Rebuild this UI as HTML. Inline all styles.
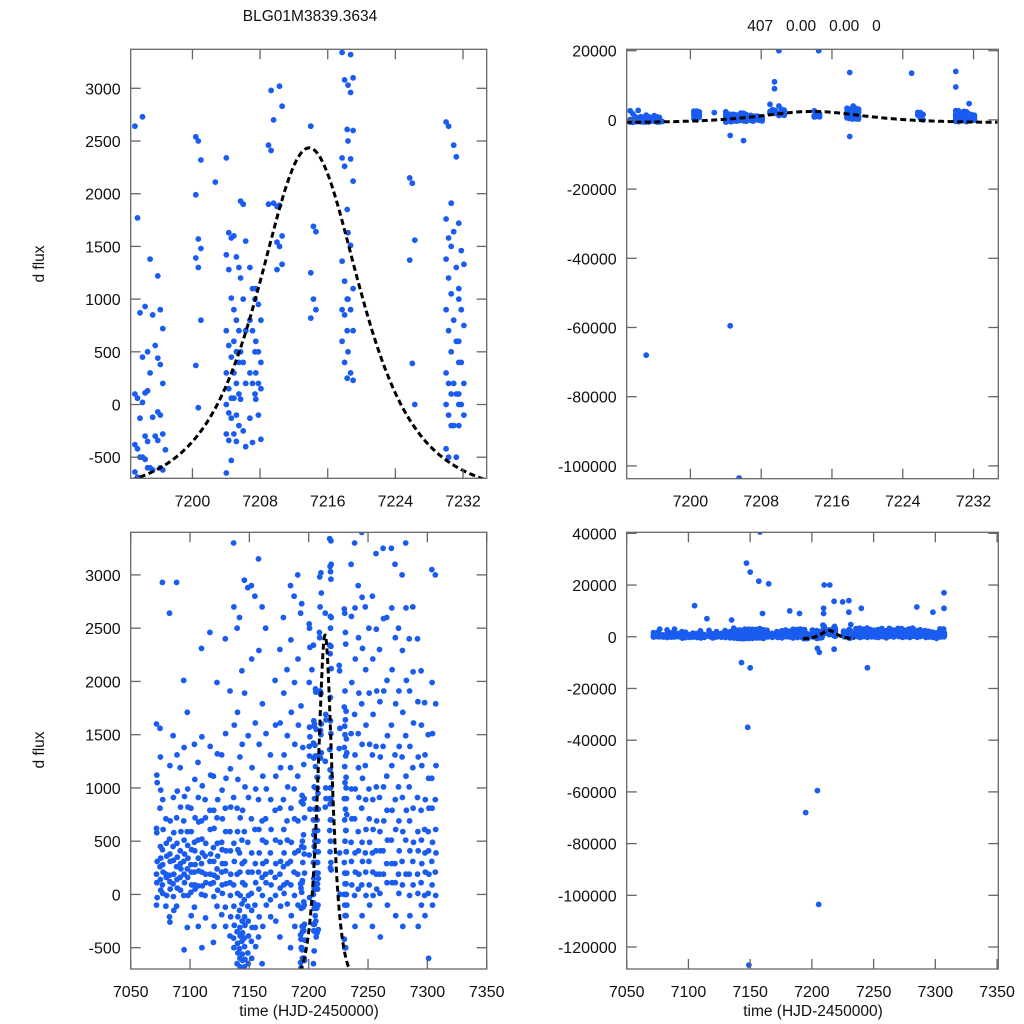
<!DOCTYPE html>
<html><head><meta charset="utf-8"><style>
html,body{margin:0;padding:0;background:#fff;width:1024px;height:1024px;overflow:hidden;}
svg{display:block;font-family:"Liberation Sans",sans-serif;}
</style></head><body>
<svg id="chart" width="1024" height="1024" viewBox="0 0 1024 1024" xmlns="http://www.w3.org/2000/svg">
<rect width="1024" height="1024" fill="#fff"/>
<text x="310" y="21" font-size="15.5" text-anchor="middle" fill="#111">BLG01M3839.3634</text>
<text x="814" y="31" font-size="15.5" text-anchor="middle" fill="#111" xml:space="preserve">407   0.00   0.00   0</text>
<text transform="translate(44,264) rotate(-90)" font-size="15.5" text-anchor="middle" fill="#111">d flux</text>
<text transform="translate(44,750) rotate(-90)" font-size="15.5" text-anchor="middle" fill="#111">d flux</text>
<text x="309" y="1016" font-size="15.5" text-anchor="middle" fill="#111">time (HJD-2450000)</text>
<text x="813" y="1016" font-size="15.5" text-anchor="middle" fill="#111">time (HJD-2450000)</text>
</svg>
<script>
// observation nights: time and measured flux values
const nightTimes = [7072,7075,7077,7080,7083,7086,7089,7092,7095,7098,7101,7104,7107,7110,7113,7117,7120,7123,7127,7130,7134,7137,7140,7142,7144,7146,7149,7152,7155,7158,7161,7164,7168,7172,7176,7179,7182,7185,7188,7191,
7193.5,7194.4,7195.3,7196.2,7197.1,7200.7,7203,7204.3,7205.2,7206,7207.1,7207.8,7209.3,7210.3,7214.3,7218,7218.7,7226,7230.3,7231.2,7231.8,
7236,7239,7242,7245,7248,7251,7254,7257,7260,7263,7266,7270,7273,7276,7279,7282,7285,7288,7292,7295,7298,7301,7304,7307];
const nightFlux = [
[1600,1120,1050,620,580,310,190,110,-30,-100],
[1560,1290,980,810,450,340,260,140,40],
[2930,890,610,420,280,210,90,10],
[710,480,360,190,160,-10,-110],
[2640,1210,690,520,380,310,180,120,50,-210,-260],
[1490,910,580,450,320,190,100,-20,-150],
[2930,1310,970,720,480,350,260,140,60,-110],
[1190,820,590,410,290,240,160,40],
[2010,1380,920,690,510,380,310,190,110,-10,-520],
[1710,990,820,590,460,340,240,160,-10,-310],
[810,590,420,280,210,90,20,-200],
[1410,1080,720,490,410,280,210,90,50,-120],
[1240,910,680,510,340,220,80,-300],
[2310,1480,1020,690,520,390,290,210,80,0,-500],
[890,720,480,360,190,110,-10,-220],
[2460,1390,1120,790,610,380,310,190,100],
[1110,790,620,440,310,180,110,-20,-300,-450],
[1990,1320,890,720,480,360,240,160,40,-110],
[1310,980,710,490,420,290,210,90,10,-190],
[2400,1510,1090,810,590,410,290,220,100,-120,-300],
[1910,1180,820,590,410,190,110,-10,-210,-390],
[3300,2700,1590,910,480,310,90,-110,-290,-410,-500],
[2500,1710,1080,810,590,420,190,10,-210,-350,-460,-550,-650],
[2600,1290,720,390,210,-10,-150,-310,-390,-510,-600,-680],
[2100,1410,790,510,290,110,-90,-250,-360,-440,-560,-620,-700],
[2950,1890,1010,590,310,90,-50,-210,-290,-410,-490,-610,-680],
[2880,1490,910,490,210,-10,-110,-250,-390,-550,-650],
[2900,2210,1190,710,390,210,10,-150,-310,-440,-600],
[2800,1610,990,610,290,110,-100,-310,-490],
[3150,2290,1410,890,610,390,210,50,-210,-400],
[2700,1790,1110,690,510,290,160,-10,-300,-650],
[2500,1510,990,710,490,310,190,110,-100],
[1310,890,610,390,210,90,-50,-210],
[2010,1590,1110,790,510,290,160,-10,-250],
[2300,1610,1190,810,490,310,190,60,-110,-400],
[2600,1890,1310,890,610,390,260,90,10],
[2110,1490,1010,690,510,290,110,-90],
[2900,2390,1710,1190,810,490,310,90,-200,-500],
[2800,1990,1410,990,710,390,210,-10,-300],
[3000,2210,1590,1110,690,410,190,-100],
[2640,1770,870,100,60,-130,-380,-420,-500,-640,-690],
[2730,930,500,450,110,130,20,-300,-350,-500,-520,-600],
[1380,850,560,300,-120,-300,-600,-620],
[1220,900,720,440,380,200,-70,-100,-280,-340,-600,-620],
[-430],
[2540,2500,2320,1990,1570,1480,1390,1300,800,370,-30],
[2110],
[2340,1630,1580,1420,1280,1010,700,560,450,300,150,60,0,-80,-130,-280,-340,-530,-650],
[1600,1400,1300,900,800,700,600,500,400,300,200,100,60,-100,-200,-280,-350],
[1930,1900,1550,1200,1000,700,500,400,200,50,-250,-400],
[1300,1100,1000,800,700,500,300,200,100,-130,-360],
[1100,950,800,600,500,400,300,200,150,50,-100,-330],
[4500,2980,2700,2460,2410,1910,1900],
[4000,3020,2830,1880,1890,1600,1540,1500,1330,1280],
[2640,1690,1640,1250,1000,900,820],
[3340,3080,2610,2340,2260,1850,1360,1170,1000,900,850,700,600,400,250],
[4000,3320,3100,3030,2960,2600,2500,2330,2120,1630,1510,1100,1000,900,700,500,300,230],
[2150,2100,1560,1370,390,0],
[2680,2640,1910,1760,1580,1500,1380,1200,1050,900,700,500,300,200,100,0,-100,-200,-420,-500],
[2460,2350,1720,1640,1300,1000,800,600,400,200,100,0,-200,-500],
[4700,1460,1330,1100,900,750,600,400,200,100,0,-100,-200],
[3100,2610,1990,1510,990,710,490,310,90],
[3300,2690,2210,1690,1310,990,710,390,210,-10,-300],
[2900,2410,1890,1510,1190,910,590,410,190,50],
[3400,2790,2310,1790,1410,1090,810,490,310,90,-200],
[2700,2110,1590,1210,890,610,390,210,-10],
[2500,1890,1410,990,710,490,310,90,-100],
[2800,2210,1690,1310,890,610,390,210,-10,-300],
[3200,2490,1910,1390,1010,690,410,190,50],
[2300,1810,1290,910,590,410,190,10,-400],
[3250,2590,1910,1390,1010,690,410,190],
[2600,2010,1490,1110,790,510,290,110,-100],
[3250,2690,2110,1590,1210,790,510,290,110],
[3100,2410,1790,1310,890,610,290,110,-200],
[2500,1910,1390,1010,690,410,190,10],
[3000,2290,1710,1290,910,590,310,90,-300],
[3300,2690,2010,1490,1110,790,510,190],
[2400,1910,1390,1010,690,410,190,-10,-200],
[2700,2090,1610,1190,810,490,310,90],
[2400,1810,1290,910,590,410,190,10,-300],
[2100,1590,1210,790,510,290,110,-100],
[1800,1310,890,610,390,210,-10,-200],
[1500,1090,810,590,410,190,10,-600],
[3050,1990,1510,1090,810,490,310,90,-100],
[3000,1790,1210,890,610,390,210,-10]
];
// outlier measurements
const outlierTimes = [7195,7204.5,7205.5,7214.5,7209.5,7209.5,7218,7230,7230,7206,7204.5,7218,7158,7147,7150,7157,7165,7210,7225,7105,7148,7143,7150,7245,7090,7149,7115,7135,7160,7182,7190,7240,7285,7298,7307,7307];
const outlierFlux  = [-68000,-59500,-103500,20000,11000,9000,13700,14000,9500,-6000,-4500,-4800,40500,28500,25000,21500,20500,20000,13500,12000,-35000,-10000,-12000,-12000,-130000,-127000,7000,6500,9000,10000,9000,11000,11500,9500,17000,11000];
// model parameters (fit)
const modelT0 = 7213.8, modelBase = -900, modelAmp = 3335, modelWidth = 10.5, modelPow = 1.8;
// axis ticks
const ticksZoomX = [7200,7208,7216,7224,7232];
const ticksFullX = [7050,7100,7150,7200,7250,7300,7350];
const ticksFluxY = [-500,0,500,1000,1500,2000,2500,3000];
const ticksTopRightY = [-100000,-80000,-60000,-40000,-20000,0,20000];
const ticksBotRightY = [-120000,-100000,-80000,-60000,-40000,-20000,0,20000,40000];

const NS = "http://www.w3.org/2000/svg";
const svg = document.getElementById('chart');
function mk(tag, attrs, parent){const e=document.createElementNS(NS,tag);for(const k in attrs)e.setAttribute(k,attrs[k]);(parent||svg).appendChild(e);return e;}

const panels = [
 {id:'top-left',  x0:130.7,x1:486.7,y0:49.3,y1:478.3,xd:[7192.7,7234.8],yd:[-700,3370],xt:ticksZoomX,yt:ticksFluxY},
 {id:'top-right', x0:626.7,x1:998.3,y0:49.3,y1:478.7,xd:[7192.8,7234.8],yd:[-103700,20400],xt:ticksZoomX,yt:ticksTopRightY},
 {id:'bottom-left', x0:130.7,x1:486.7,y0:532.3,y1:969,xd:[7050,7350],yd:[-700,3400],xt:ticksFullX,yt:ticksFluxY},
 {id:'bottom-right',x0:626.7,x1:998.3,y0:532.3,y1:969,xd:[7050,7351],yd:[-128500,40400],xt:ticksFullX,yt:ticksBotRightY}
];
function model(t){const d=(t-modelT0)/modelWidth;return modelBase+modelAmp/Math.pow(1+d*d,modelPow);}

panels.forEach((p,i)=>{
  const sx=t=>p.x0+(t-p.xd[0])/(p.xd[1]-p.xd[0])*(p.x1-p.x0);
  const sy=v=>p.y1-(v-p.yd[0])/(p.yd[1]-p.yd[0])*(p.y1-p.y0);
  const g=mk('g',{});
  
  
  const cp=mk('clipPath',{id:'clip'+i},g);
  mk('rect',{x:p.x0,y:p.y0,width:p.x1-p.x0,height:p.y1-p.y0},cp);
  const pts=mk('g',{'clip-path':'url(#clip'+i+')',fill:'#1a5cf0'},g);
  
  
  const add=(t,v)=>{
    if(t<p.xd[0]-1||t>p.xd[1]+1)return;
    const c=mk('circle',{cx:sx(t).toFixed(1),cy:sy(v).toFixed(1),r:2.9},pts);
    
    
  };
  nightTimes.forEach((t,k)=>nightFlux[k].forEach((v,j)=>add(t+(j%3-1)*0.3,v)));
  outlierTimes.forEach((t,k)=>add(t,outlierFlux[k]));
  let d='';
  for(let t=7192.7;t<=7234.8;t+=0.1){d+=(d?'L':'M')+sx(t).toFixed(1)+','+sy(model(t)).toFixed(1);}
  const path=mk('path',{d:d,fill:'none',stroke:'#000','stroke-width':3,'stroke-dasharray':'6 3.5','clip-path':'url(#clip'+i+')'},g);
  
  
  const fr=mk('rect',{x:p.x0,y:p.y0,width:p.x1-p.x0,height:p.y1-p.y0,fill:'none',stroke:'#666','stroke-width':1.3},g);
  
  
  p.xt.forEach(t=>{
    const x=sx(t);
    mk('line',{x1:x,x2:x,y1:p.y1,y2:p.y1-10,stroke:'#666','stroke-width':1.3},g);
    mk('line',{x1:x,x2:x,y1:p.y0,y2:p.y0+10,stroke:'#666','stroke-width':1.3},g);
    const tx=mk('text',{x:x,y:p.y1+28,'font-size':16,'text-anchor':'middle',fill:'#111'},g);
    tx.textContent=t;
    
    
  });
  p.yt.forEach(v=>{
    const y=sy(v);
    if(y<p.y0-1||y>p.y1+1)return;
    mk('line',{x1:p.x0,x2:p.x0+10,y1:y,y2:y,stroke:'#666','stroke-width':1.3},g);
    mk('line',{x1:p.x1,x2:p.x1-10,y1:y,y2:y,stroke:'#666','stroke-width':1.3},g);
    const ty=mk('text',{x:p.x0-10,y:y+6,'font-size':16,'text-anchor':'end',fill:'#111'},g);
    ty.textContent=v;
    
    
  });
});
</script>
</body></html>
